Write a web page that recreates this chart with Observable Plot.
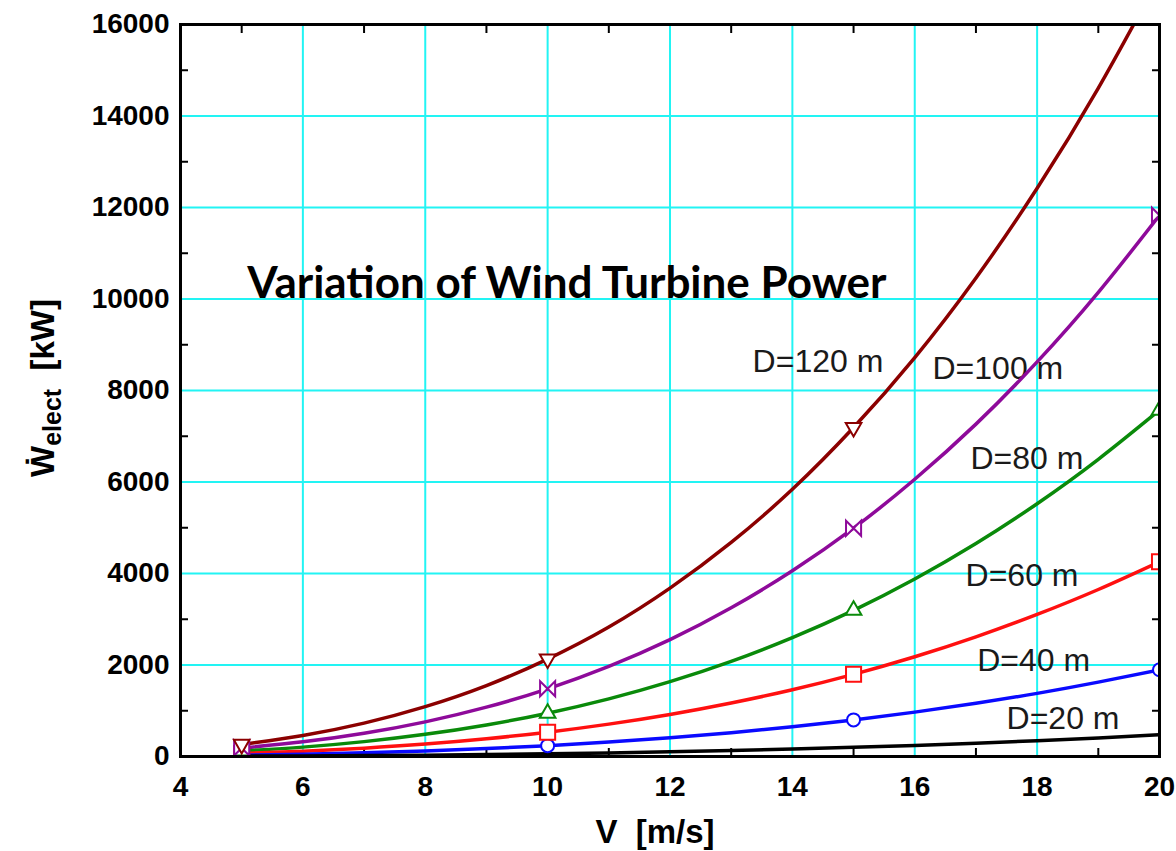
<!DOCTYPE html>
<html>
<head>
<meta charset="utf-8">
<script src="https://cdn.jsdelivr.net/npm/d3@7"></script>
<script src="https://cdn.jsdelivr.net/npm/@observablehq/plot@0.6"></script>
<style>
  html, body { margin: 0; padding: 0; background: #fff; }
  #chart { width: 1176px; height: 851px; }
</style>
</head>
<body>
<div id="chart"></div>
<script>
// ---- data ----
const windSpeed = [5, 6, 7, 8, 9, 10, 11, 12, 13, 14, 15, 16, 17, 18, 19, 20];
const powerD120 = [265, 460, 730, 1090, 1550, 2130, 2830, 3680, 4680, 5840, 7190, 8720, 10460, 12420, 14610, 17040];
const powerD100 = [185, 320, 507, 757, 1078, 1480, 1970, 2555, 3250, 4060, 4990, 6060, 7265, 8625, 10145, 11830];
const powerD80  = [118, 205, 325, 485, 690, 947, 1260, 1636, 2080, 2600, 3195, 3880, 4655, 5525, 6495, 7570];
const powerD60  = [67, 115, 183, 272, 388, 532, 708, 919, 1170, 1460, 1796, 2180, 2615, 3105, 3650, 4255];
const powerD40  = [30, 51, 81, 121, 173, 237, 315, 409, 520, 650, 800, 970, 1163, 1380, 1625, 1895];
const powerD20  = [7, 13, 20, 30, 43, 59, 79, 102, 130, 162, 200, 242, 291, 345, 406, 474];
const seriesNames = ["D=120 m", "D=100 m", "D=80 m", "D=60 m", "D=40 m", "D=20 m"];
const markerSpeeds = [5, 10, 15, 20];
const xTicks = [4, 6, 8, 10, 12, 14, 16, 18, 20];
const yTicks = [0, 2000, 4000, 6000, 8000, 10000, 12000, 14000, 16000];
const xMinorTicks = [5, 7, 9, 11, 13, 15, 17, 19];
const yMinorTicks = [1000, 3000, 5000, 7000, 9000, 11000, 13000, 15000];
const titleText = "Variation of Wind Turbine Power";

// ---- build tables ----
const seriesValues = [powerD120, powerD100, powerD80, powerD60, powerD40, powerD20];
const colors = ["#8b0000", "#8e0a9a", "#0a8a0a", "#ff1010", "#0a0aff", "#000000"];
const rows = [];
seriesNames.forEach((name, s) => {
  windSpeed.forEach((v, i) => rows.push({series: name, V: v, P: seriesValues[s][i]}));
});
const markerRows = name => rows.filter(d => d.series === name && markerSpeeds.includes(d.V));

// annotation positions (data units)
const labelPos = [
  {text: "D=120 m", x: 13.35, y: 8620},
  {text: "D=100 m", x: 16.29, y: 8480},
  {text: "D=80 m",  x: 16.91, y: 6510},
  {text: "D=60 m",  x: 16.83, y: 3960},
  {text: "D=40 m",  x: 17.02, y: 2100},
  {text: "D=20 m",  x: 17.50, y: 830}
];

// custom symbols
const triangleDown = {
  draw(ctx, size) {
    const y = -Math.sqrt(size / (Math.sqrt(3) * 3));
    ctx.moveTo(0, -y * 2);
    ctx.lineTo(-Math.sqrt(3) * y, y);
    ctx.lineTo(Math.sqrt(3) * y, y);
    ctx.closePath();
  }
};
const bowtie = {
  draw(ctx, size) {
    const s = Math.sqrt(size) / 2;
    ctx.moveTo(-s, -s);
    ctx.lineTo(s, s);
    ctx.lineTo(s, -s);
    ctx.lineTo(-s, s);
    ctx.closePath();
  }
};

const col = name => colors[seriesNames.indexOf(name)];
const fmt = d => String(d);

const plot = Plot.plot({
  width: 1176,
  height: 851,
  marginLeft: 180,
  marginRight: 17,
  marginTop: 24,
  marginBottom: 95,
  style: {fontFamily: "'Liberation Sans', Arial, sans-serif", background: "#fff", color: "#000"},
  x: {domain: [4, 20]},
  y: {domain: [0, 16000]},
  color: {domain: seriesNames, range: colors},
  marks: [
    Plot.gridX(xTicks.slice(1, -1), {stroke: "#22f4f4", strokeOpacity: 1, strokeWidth: 2}),
    Plot.gridY(yTicks.slice(1, -1), {stroke: "#22f4f4", strokeOpacity: 1, strokeWidth: 2}),
    Plot.axisX(xTicks, {tickSize: 0, tickPadding: 20, fontSize: 28, fontWeight: "bold", tickFormat: fmt, label: null}),
    Plot.axisY(yTicks, {tickSize: 0, tickPadding: 11, fontSize: 28, fontWeight: "bold", tickFormat: fmt, label: null}),
    Plot.axisX(xMinorTicks, {anchor: "bottom", tickSize: -8, strokeWidth: 2, tickFormat: () => "", label: null}),
    Plot.axisX(xMinorTicks, {anchor: "top", tickSize: -8, strokeWidth: 2, tickFormat: () => "", label: null}),
    Plot.axisY(yMinorTicks, {anchor: "left", tickSize: -8, strokeWidth: 2, tickFormat: () => "", label: null}),
    Plot.axisY(yMinorTicks, {anchor: "right", tickSize: -8, strokeWidth: 2, tickFormat: () => "", label: null}),
    Plot.text(labelPos, {x: "x", y: "y", text: "text", textAnchor: "start", fontSize: 32, fill: "#1a1a1a"}),
    Plot.text([titleText], {x: 5.09, y: 10330, text: d => d, textAnchor: "start", fontSize: 44, fontWeight: "bold", fontFamily: "Lato, 'Open Sans', sans-serif", fill: "#000"}),
    Plot.line(rows, {x: "V", y: "P", z: "series", stroke: "series", strokeWidth: 3.5, curve: "natural", clip: true}),
    Plot.dot(markerRows("D=40 m"), {x: "V", y: "P", symbol: "circle", r: 6.5, stroke: col("D=40 m"), fill: "white", strokeWidth: 2, clip: true}),
    Plot.dot(markerRows("D=60 m"), {x: "V", y: "P", symbol: "square", r: 8.5, stroke: col("D=60 m"), fill: "white", strokeWidth: 2, clip: true}),
    Plot.dot(markerRows("D=80 m"), {x: "V", y: "P", symbol: "triangle", r: 5.8, stroke: col("D=80 m"), fill: "white", strokeWidth: 2, clip: true}),
    Plot.dot(markerRows("D=100 m"), {x: "V", y: "P", symbol: bowtie, r: 8.5, stroke: col("D=100 m"), fill: "white", strokeWidth: 2, clip: true}),
    Plot.dot(markerRows("D=120 m"), {x: "V", y: "P", symbol: triangleDown, r: 5.8, stroke: col("D=120 m"), fill: "white", strokeWidth: 2, clip: true}),
    Plot.frame({stroke: "#000", strokeWidth: 3})
  ]
});

document.getElementById("chart").appendChild(plot);

// axis titles (with subscript)
const svg = d3.select(plot);
svg.append("text")
  .attr("x", 655).attr("y", 843)
  .attr("text-anchor", "middle")
  .attr("font-family", "'Liberation Sans', Arial, sans-serif")
  .attr("font-size", 33).attr("font-weight", "bold")
  .attr("fill", "#000")
  .attr("xml:space", "preserve")
  .text("V  [m/s]");

const yl = svg.append("text")
  .attr("transform", "translate(54,388) rotate(-90)")
  .attr("text-anchor", "middle")
  .attr("font-family", "'Liberation Sans', Arial, sans-serif")
  .attr("font-size", 33).attr("font-weight", "bold")
  .attr("fill", "#000")
  .attr("xml:space", "preserve");
yl.append("tspan").text("\u1E86");
yl.append("tspan").attr("font-size", 25).attr("dy", 7).text("elect");
yl.append("tspan").attr("dy", -7).text("  [kW]");
</script>
</body>
</html>
